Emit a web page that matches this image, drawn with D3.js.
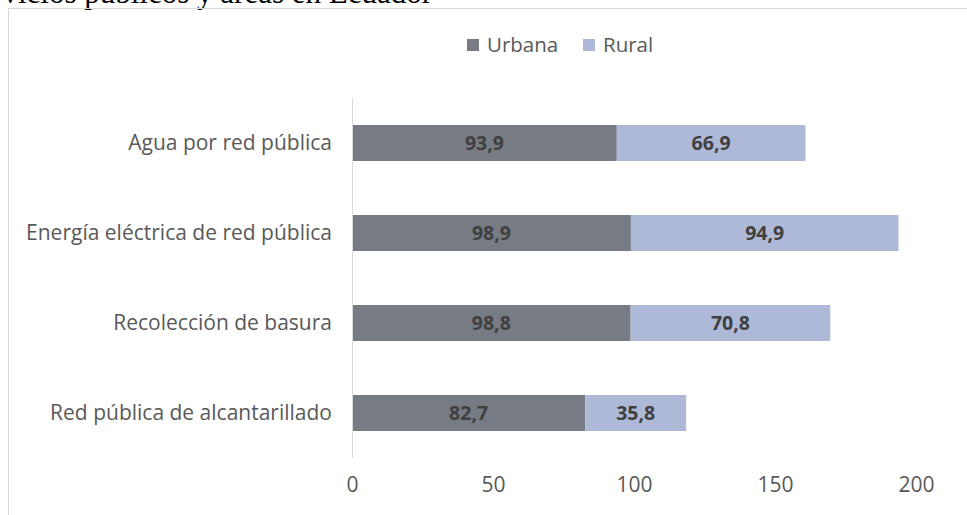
<!DOCTYPE html>
<html lang="es">
<head>
<meta charset="UTF-8">
<script src="https://cdn.jsdelivr.net/npm/d3@7"></script>
<style>
  html, body { margin: 0; padding: 0; background: #fff; overflow: hidden; }
  svg { display: block; font-family: "Open Sans", "Noto Sans", sans-serif; }
</style>
</head>
<body>
<div id="chart"></div>
<script>
// datos
var categorias = ["Agua por red pública", "Energía eléctrica de red pública", "Recolección de basura", "Red pública de alcantarillado"];
var urbana = [93.9, 98.9, 98.8, 82.7];
var rural = [66.9, 94.9, 70.8, 35.8];
var series = ["Urbana", "Rural"];
var colores = ["#777b84", "#adb9d7"];
var ticks = [0, 50, 100, 150, 200];

var width = 967, height = 515;
var svg = d3.select("#chart").append("svg").attr("width", width).attr("height", height);

// titulo cortado arriba
svg.append("text")
  .attr("x", 432).attr("y", 3)
  .attr("text-anchor", "end")
  .style("font-family", "'Liberation Serif', 'DejaVu Serif', serif")
  .style("font-size", "31px")
  .attr("fill", "#000")
  .text("Servicios públicos y áreas en Ecuador");

// marco
svg.append("line").attr("x1", 8.5).attr("x2", 8.5).attr("y1", 8).attr("y2", height).attr("stroke", "#d9d9d9");
svg.append("line").attr("x1", 8).attr("x2", width).attr("y1", 8.5).attr("y2", 8.5).attr("stroke", "#d9d9d9");

var x = d3.scaleLinear().domain([0, 200]).range([352, 916]);
var y = d3.scaleBand().domain(categorias).range([98, 458]).paddingInner(0.6).paddingOuter(0.3);

var data = categorias.map(function (c, i) { return { cat: c, Urbana: urbana[i], Rural: rural[i] }; });
var stack = d3.stack().keys(series)(data);

// barras
var grupos = svg.selectAll("g.serie").data(stack).enter().append("g")
  .attr("class", "serie")
  .attr("fill", function (d, i) { return colores[i]; });

grupos.selectAll("rect").data(function (d) { return d; }).enter().append("rect")
  .attr("x", function (d) { return x(d[0]); })
  .attr("y", function (d) { return y(d.data.cat); })
  .attr("width", function (d) { return x(d[1]) - x(d[0]); })
  .attr("height", y.bandwidth());

// etiquetas de valor
grupos.selectAll("text").data(function (d) { return d; }).enter().append("text")
  .attr("x", function (d) { return (x(d[0]) + x(d[1])) / 2; })
  .attr("y", function (d) { return y(d.data.cat) + y.bandwidth() / 2; })
  .attr("dy", "0.36em")
  .attr("text-anchor", "middle")
  .attr("fill", "#404040")
  .style("font-size", "19.5px")
  .style("font-weight", "bold")
  .text(function (d) { return d3.format(".1f")(d[1] - d[0]).replace(".", ","); });

// eje vertical
svg.append("line").attr("x1", 352.5).attr("x2", 352.5).attr("y1", 98).attr("y2", 458).attr("stroke", "#d9d9d9");

// eje y etiquetas
var yAxis = svg.append("g").attr("transform", "translate(352,0)")
  .call(d3.axisLeft(y).tickSize(0).tickPadding(20))
  .attr("font-family", null).attr("font-size", null);
yAxis.select(".domain").remove();
yAxis.selectAll("text").attr("fill", "#595959").style("font-size", "21px");

// eje x
var xAxis = svg.append("g").attr("transform", "translate(0,477)")
  .call(d3.axisBottom(x).tickValues(ticks).tickSize(0).tickPadding(0))
  .attr("font-family", null).attr("font-size", null);
xAxis.select(".domain").remove();
xAxis.selectAll("text").attr("fill", "#595959").style("font-size", "21px");

// leyenda
var leyenda = svg.append("g").attr("transform", "translate(467,45)");
var items = leyenda.selectAll("g").data(series).enter().append("g")
  .attr("transform", function (d, i) { return "translate(" + (i * 116) + ",0)"; });
items.append("rect").attr("x", 0).attr("y", -6).attr("width", 12).attr("height", 12)
  .attr("fill", function (d, i) { return colores[i]; });
items.append("text").attr("x", 20).attr("dy", "0.36em")
  .attr("fill", "#595959").style("font-size", "20.5px")
  .text(function (d) { return d; });
</script>
</body>
</html>
